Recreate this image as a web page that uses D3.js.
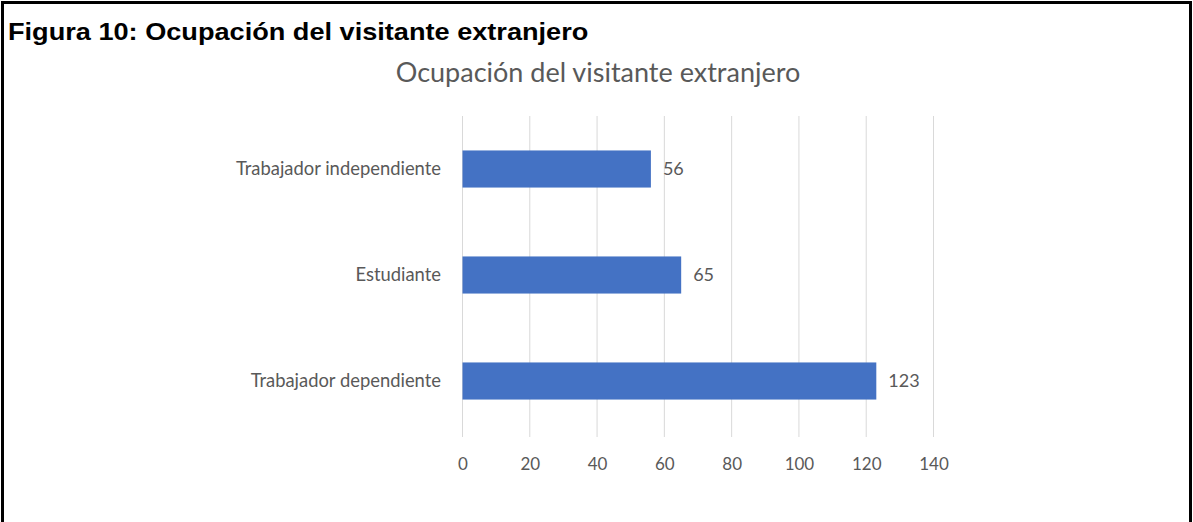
<!DOCTYPE html>
<html>
<head>
<meta charset="utf-8">
<script src="https://cdn.jsdelivr.net/npm/d3@7/dist/d3.min.js"></script>
<style>
  html, body { margin: 0; padding: 0; background: #fff; }
  svg { display: block; }
</style>
</head>
<body>
<svg id="chart" width="1193" height="522"></svg>
<script>
// Ocupación del visitante extranjero — horizontal bar chart
const categories = ["Trabajador independiente", "Estudiante", "Trabajador dependiente"];
const values = [56, 65, 123];
const tickValues = [0, 20, 40, 60, 80, 100, 120, 140];
const figureCaption = "Figura 10: Ocupación del visitante extranjero";
const chartTitle = "Ocupación del visitante extranjero";

const W = 1193, H = 522;
const svg = d3.select("#chart");
const labelFont = "Lato, 'Open Sans', sans-serif";
const textGray = "#595959";

// frame around the figure (open at the bottom)
svg.append("path")
  .attr("d", `M2.5,${H} V2.5 H1190.5 V${H}`)
  .attr("fill", "none")
  .attr("stroke", "#000")
  .attr("stroke-width", 3);

// caption, slightly widened
svg.append("g")
  .attr("transform", "translate(8,40) scale(1.18,1)")
  .append("text")
  .attr("font-family", "'Liberation Sans', Arial, sans-serif")
  .attr("font-weight", "bold")
  .attr("font-size", 23)
  .attr("fill", "#000")
  .text(figureCaption);

// chart title
svg.append("text")
  .attr("x", 598)
  .attr("y", 82)
  .attr("text-anchor", "middle")
  .attr("font-family", labelFont)
  .attr("font-size", 27)
  .attr("fill", textGray)
  .text(chartTitle);

// scales
const x = d3.scaleLinear().domain([0, 140]).range([462.5, 933.5]);
const y = d3.scaleBand()
  .domain(categories)
  .range([116, 434])
  .paddingInner(0.65)
  .paddingOuter(0.325);

// vertical gridlines
svg.append("g")
  .selectAll("line")
  .data(tickValues)
  .join("line")
  .attr("x1", d => x(d))
  .attr("x2", d => x(d))
  .attr("y1", 116)
  .attr("y2", 437)
  .attr("stroke", "#d9d9d9")
  .attr("stroke-width", 1);

// x axis tick labels
const xAxis = d3.axisBottom(x).tickValues(tickValues).tickSize(0).tickPadding(0);
const gx = svg.append("g")
  .attr("transform", "translate(0,458)")
  .call(xAxis);
gx.select(".domain").remove();
gx.selectAll("text")
  .attr("font-family", labelFont)
  .attr("font-size", 17)
  .attr("fill", textGray);

// category labels
const yAxis = d3.axisLeft(y).tickSize(0).tickPadding(0);
const gy = svg.append("g")
  .attr("transform", "translate(441,0)")
  .call(yAxis);
gy.select(".domain").remove();
gy.selectAll("text")
  .attr("font-family", labelFont)
  .attr("font-size", 18.4)
  .attr("fill", textGray);

// bars
const rows = categories.map((c, i) => ({ cat: c, val: values[i] }));
svg.append("g")
  .selectAll("rect")
  .data(rows)
  .join("rect")
  .attr("x", x(0))
  .attr("y", d => y(d.cat))
  .attr("width", d => x(d.val) - x(0))
  .attr("height", y.bandwidth())
  .attr("fill", "#4472c4");

// value labels
svg.append("g")
  .selectAll("text")
  .data(rows)
  .join("text")
  .attr("x", d => x(d.val) + 12)
  .attr("y", d => y(d.cat) + y.bandwidth() / 2)
  .attr("dy", "0.35em")
  .attr("font-family", labelFont)
  .attr("font-size", 18)
  .attr("fill", textGray)
  .text(d => d.val);
</script>
</body>
</html>
